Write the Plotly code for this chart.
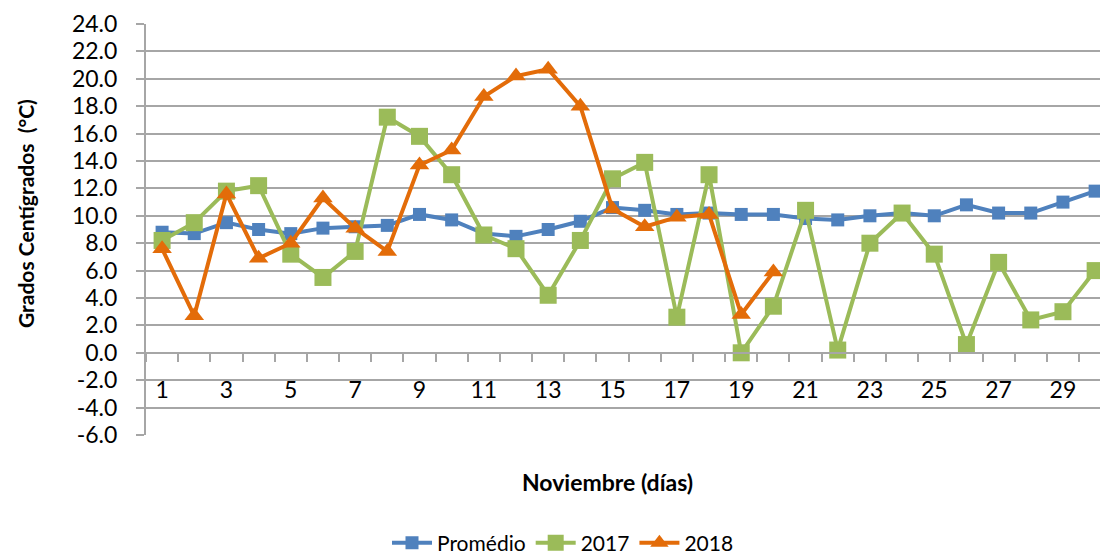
import plotly.graph_objects as go

days = list(range(1, 31))
promedio = [8.8, 8.7, 9.5, 9.0, 8.7, 9.1, 9.2, 9.3, 10.1, 9.7,
            8.7, 8.5, 9.0, 9.6, 10.6, 10.4, 10.1, 10.2, 10.1, 10.1,
            9.8, 9.7, 10.0, 10.2, 10.0, 10.8, 10.2, 10.2, 11.0, 11.8]
y2017 = [8.2, 9.5, 11.8, 12.2, 7.2, 5.5, 7.4, 17.2, 15.8, 13.0,
         8.6, 7.6, 4.2, 8.2, 12.7, 13.9, 2.6, 13.0, 0.0, 3.4,
         10.4, 0.2, 8.0, 10.2, 7.2, 0.6, 6.6, 2.4, 3.0, 6.0]
days2018 = list(range(1, 21))
y2018 = [7.6, 2.7, 11.6, 6.9, 8.0, 11.3, 9.1, 7.4, 13.7, 14.8,
         18.7, 20.2, 20.7, 18.0, 10.5, 9.2, 9.9, 10.1, 2.8, 5.9]
xtick_vals = list(range(1, 30, 2))
ytick_vals = list(range(-6, 25, 2))
ytick_text = ["%.1f" % v for v in ytick_vals]

BLUE = "#4F81BD"
GREEN = "#9BBB59"
ORANGE = "#E36C09"
GRID = "#A6A6A6"
FONT = "Lato, Calibri, sans-serif"
FS = 23

# the page body has an 8px margin, so figure coords = window coords - 8
OFF = 8
W, H = 1108 - OFF, 556 - OFF
L, T = 146 - OFF, 24 - OFF
BOT = 435 - OFF
PH = BOT - T
PW = W - L

def px(xw):
    return (xw - OFF - L) / PW

def py(yw):
    return (BOT - (yw - OFF)) / PH

fig = go.Figure()
fig.add_trace(go.Scatter(x=days, y=promedio, name="Promédio", mode="lines+markers",
                         line=dict(color=BLUE, width=4),
                         marker=dict(symbol="square", size=13, color=BLUE)))
fig.add_trace(go.Scatter(x=days, y=y2017, name="2017", mode="lines+markers",
                         line=dict(color=GREEN, width=4),
                         marker=dict(symbol="square", size=17, color=GREEN)))
fig.add_trace(go.Scatter(x=days2018, y=y2018, name="2018", mode="lines+markers",
                         line=dict(color=ORANGE, width=4),
                         marker=dict(symbol="triangle-up", size=17, color=ORANGE)))

fig.update_layout(
    width=W, height=H,
    margin=dict(l=L, r=0, t=T, b=H - BOT, autoexpand=False),
    paper_bgcolor="white", plot_bgcolor="white",
    font=dict(family=FONT, size=FS, color="black"),
    showlegend=True,
    legend=dict(orientation="h", xref="paper", yref="paper",
                x=px(563), xanchor="center",
                y=py(543), yanchor="middle",
                font=dict(size=21), tracegroupgap=0, itemwidth=40),
    xaxis=dict(range=[0.5, 30.4], anchor="free", position=0.2,
               tickmode="array", tickvals=xtick_vals, ticks="",
               showgrid=False, zeroline=False,
               showline=True, linecolor=GRID, linewidth=2,
               ticklabelstandoff=17,
               tickfont=dict(size=FS),
               minor=dict(tick0=0.5, dtick=1, ticks="outside", ticklen=8,
                          tickcolor=GRID, tickwidth=2, showgrid=False)),
    yaxis=dict(range=[-6, 24], tickmode="array", tickvals=ytick_vals, ticktext=ytick_text,
               showgrid=True, gridcolor=GRID, gridwidth=2,
               zeroline=False, showline=True, linecolor=GRID, linewidth=2,
               ticks="outside", ticklen=8, tickcolor=GRID, tickwidth=2,
               ticklabelstandoff=14, tickfont=dict(size=FS)),
    annotations=[
        dict(text="<b>Noviembre (días)</b>", xref="paper", yref="paper",
             x=px(607), y=py(482), xanchor="center", yanchor="middle",
             showarrow=False, font=dict(size=FS)),
        dict(text="<b>Grados Centígrados  (°C)</b>", xref="paper", yref="paper",
             x=px(25), y=py(214), xanchor="center", yanchor="middle",
             textangle=-90, showarrow=False, font=dict(size=21)),
    ],
)

fig.write_html("out.html")
